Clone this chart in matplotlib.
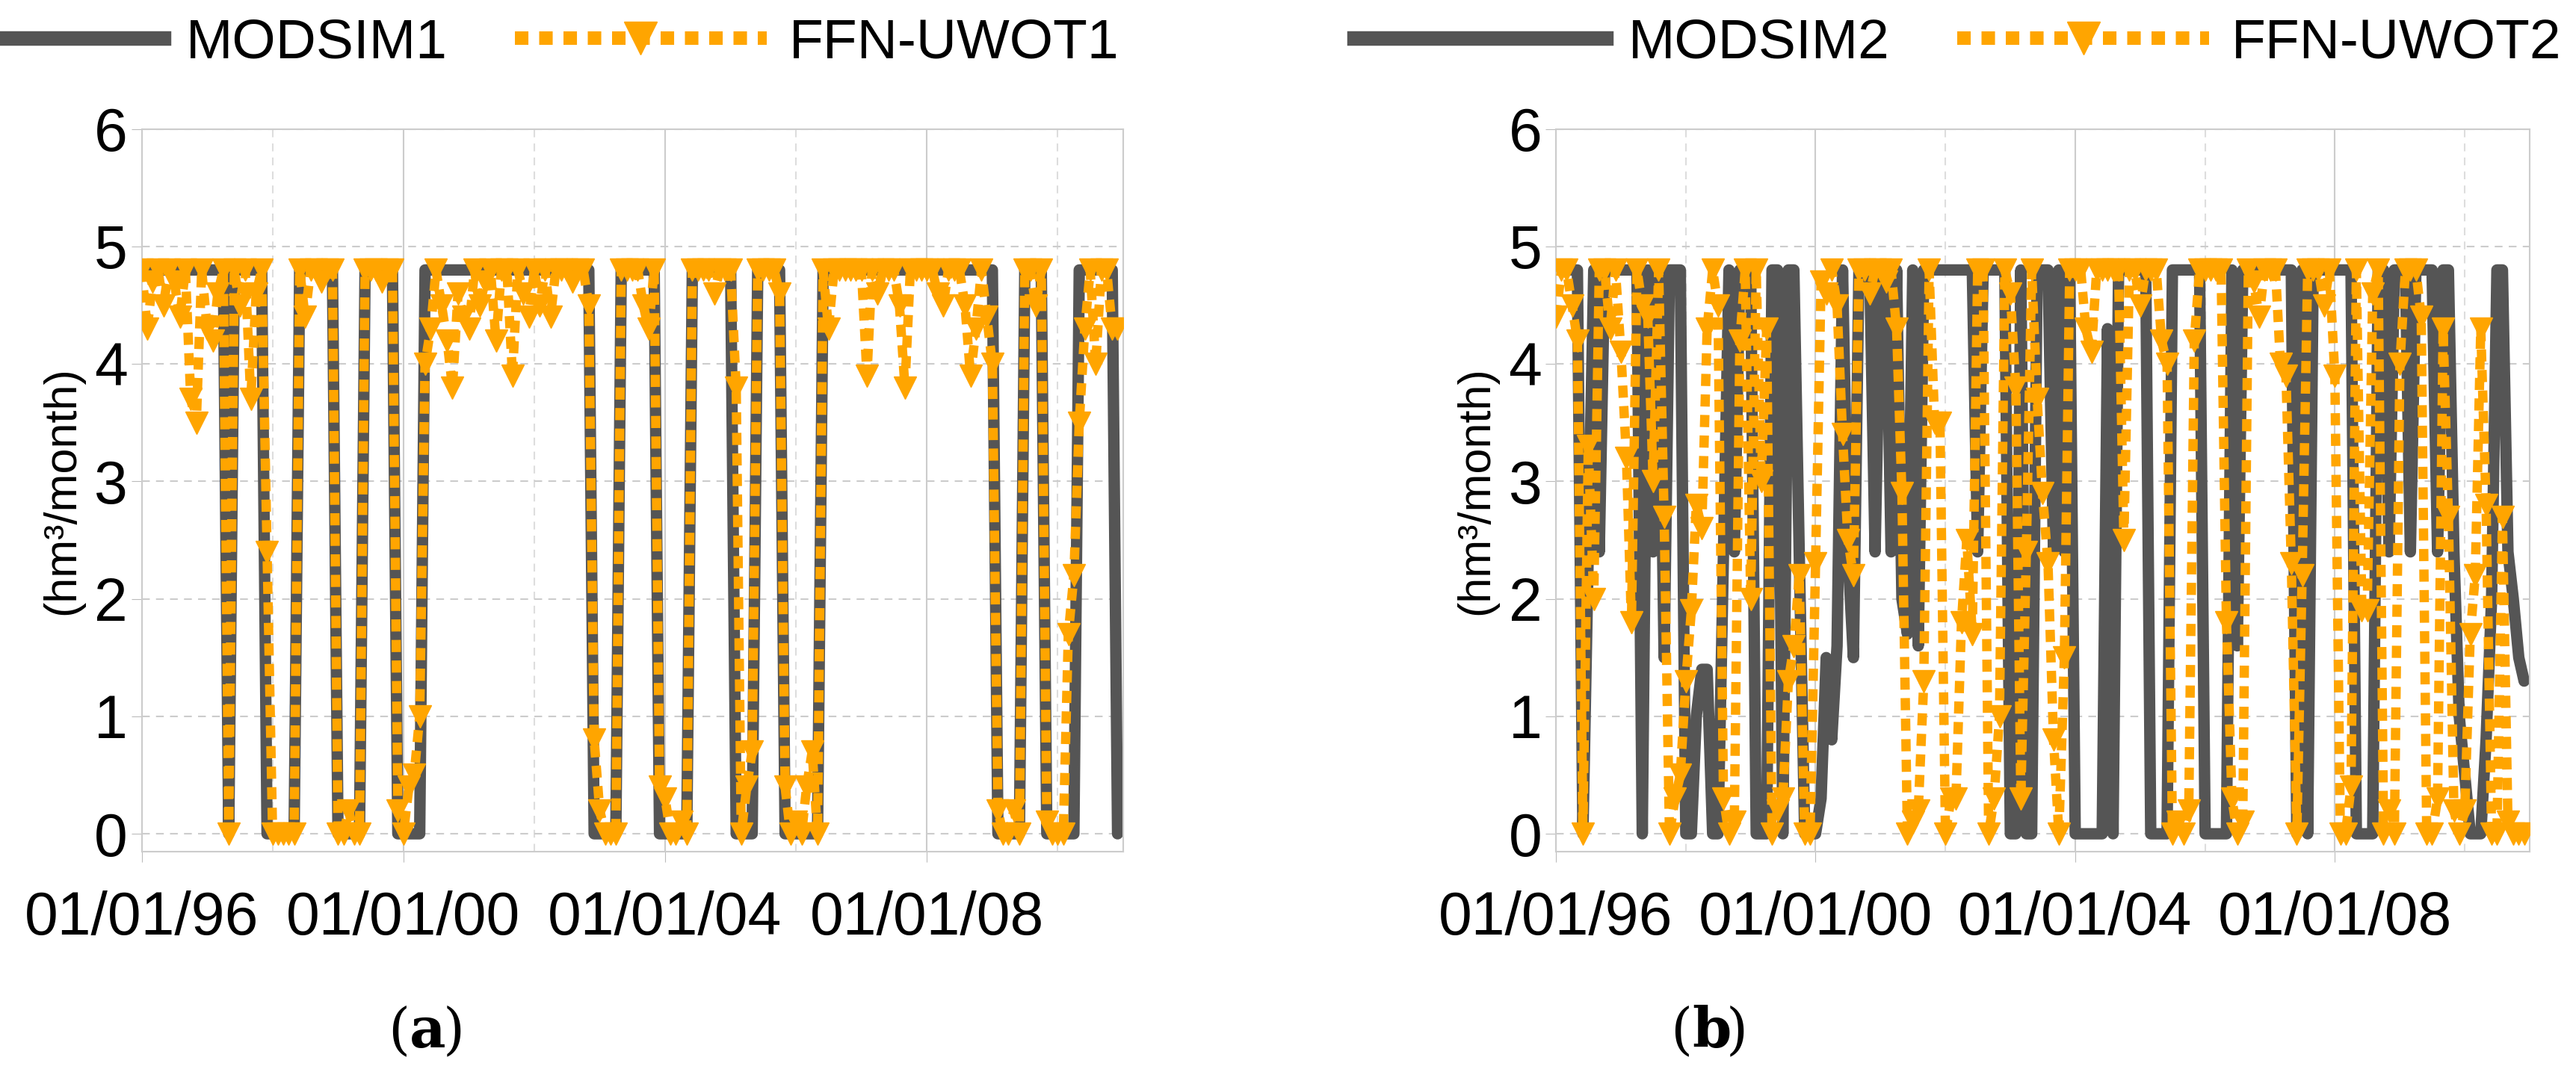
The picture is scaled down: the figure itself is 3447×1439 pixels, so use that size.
import matplotlib
matplotlib.use("Agg")
import matplotlib.pyplot as plt
import matplotlib.dates as mdates
from matplotlib.lines import Line2D
import pandas as pd

plt.rcParams['font.family'] = ['Liberation Sans', 'DejaVu Sans']

months = pd.date_range("1996-01-01", periods=180, freq="MS")

modsim1 = [
4.8,4.8,4.8,4.8,4.8,4.8,4.8,4.8,4.8,4.8,4.8,4.8,4.8,4.8,4.8,4.8,
0,
4.8,4.8,4.8,4.8,4.8,4.8,
0,0,0,0,0,0,
4.8,4.8,4.8,4.8,4.8,4.8,4.8,
0,0,0,0,0,
4.8,4.8,4.8,4.8,4.8,4.8,
0,0,0,0,0,
4.8,4.8,4.8,4.8,4.8,4.8,4.8,4.8,4.8,4.8,4.8,4.8,4.8,4.8,4.8,4.8,4.8,4.8,4.8,4.8,4.8,4.8,4.8,4.8,4.8,4.8,4.8,4.8,4.8,4.8,4.8,
0,0,0,0,0,
4.8,4.8,4.8,4.8,4.8,4.8,4.8,
0,0,0,0,0,0,
4.8,4.8,4.8,4.8,4.8,4.8,4.8,4.8,
0,0,0,0,
4.8,4.8,4.8,4.8,4.8,
0,0,0,0,0,0,0,
4.8,4.8,4.8,4.8,4.8,4.8,4.8,4.8,4.8,4.8,4.8,4.8,4.8,4.8,4.8,4.8,4.8,4.8,4.8,4.8,4.8,4.8,4.8,4.8,4.8,4.8,4.8,4.8,4.8,4.8,4.8,4.8,
0,0,0,0,0,
4.8,4.8,4.8,4.8,
0,0,0,0,0,0,
4.8,4.8,4.8,4.8,4.8,4.8,4.8,
0]

ffn1 = [
4.8,4.3,4.7,4.8,4.5,4.8,4.7,4.4,4.8,3.7,3.5,4.8,4.3,4.2,4.6,4.8,
0,
4.8,4.5,4.8,3.7,4.6,4.8,
2.4,0,0,0,0,0,
4.8,4.4,4.8,4.8,4.7,4.8,4.8,
0,0,0.2,0,0,
4.8,4.8,4.8,4.7,4.8,4.8,
0.2,0,0.4,0.5,1.0,
4.0,4.3,4.8,4.5,4.2,3.8,4.6,4.4,4.3,4.8,4.5,4.7,4.8,4.2,4.8,4.8,3.9,4.8,4.6,4.4,4.8,4.5,4.8,4.4,4.8,4.8,4.8,4.7,4.8,4.8,4.5,
0.8,0.2,0,0,0,
4.8,4.8,4.8,4.8,4.5,4.3,4.8,
0.4,0.3,0,0,0.1,0,
4.8,4.8,4.8,4.8,4.6,4.8,4.8,4.8,
3.8,0,0.4,0.7,
4.8,4.8,4.8,4.8,4.6,
0.4,0,0.1,0,0.4,0.7,0,
4.8,4.3,4.8,4.8,4.8,4.8,4.8,4.8,3.9,4.8,4.6,4.8,4.8,4.8,4.5,3.8,4.8,4.8,4.8,4.8,4.8,4.6,4.5,4.8,4.8,4.8,4.5,3.9,4.3,4.8,4.4,4.0,
0.2,0,0,0.2,0,
4.8,4.8,4.5,4.8,
0.1,0,0,0,1.7,2.2,
3.5,4.3,4.8,4.0,4.8,4.8,4.3,
4.3]

modsim2 = [
4.8,4.8,4.8,4.8,4.8,
0,2.4,4.8,2.4,
4.8,4.8,4.8,4.8,4.8,4.8,4.8,
0,
4.8,2.4,4.8,1.5,
4.8,4.8,4.8,
0,0,1.0,
1.4,1.4,0,
0,2.4,
4.8,2.4,4.8,4.8,4.8,
0,0,0,
4.8,4.8,0,4.8,4.8,2.4,
0,0,0,0.3,
1.5,0.8,1.6,
4.8,2.4,1.5,
4.8,4.8,
4.8,2.4,4.8,4.8,2.4,4.8,
2.0,1.7,4.8,1.6,4.8,
4.8,4.8,4.8,4.8,4.8,4.8,4.8,4.8,4.8,2.4,4.8,4.8,4.8,4.8,4.8,
0,0,4.8,0,0,
4.8,4.8,4.8,2.4,4.8,2.4,4.8,
0,0,0,0,0,0,
4.3,0,
4.8,4.8,4.8,4.8,4.8,4.8,
0,0,0,0,
4.8,4.8,4.8,4.8,4.8,4.8,
0,0,0,0,0,
4.8,1.6,4.8,4.8,4.8,4.8,4.8,4.8,4.8,4.8,4.8,4.8,
0,
4.8,0,4.8,4.8,
4.8,4.8,4.8,4.8,4.8,4.8,
0,0,0,0,
4.8,4.8,2.4,4.8,4.8,4.8,2.4,4.8,4.8,4.8,4.8,2.4,4.8,4.8,
2.4,1.0,0.5,
0,0,0,0.8,
2.0,4.8,4.8,2.4,2.0,1.5,1.3]

ffn2 = [
4.4,4.8,4.8,4.5,4.2,0,3.3,2.0,4.8,4.8,4.3,4.8,4.1,3.2,1.8,4.8,
4.5,4.4,3.0,4.8,2.7,0,0.3,0.5,1.3,1.9,2.8,2.6,4.3,4.8,4.5,0.3,
0,0.1,4.2,4.8,2.0,4.8,3.0,4.3,0,0.2,0.3,1.3,1.6,2.2,0,0,
2.3,4.7,4.6,4.8,4.5,3.4,2.5,2.2,4.8,4.8,4.6,4.8,4.8,4.7,4.8,4.3,
2.9,0,0.1,0.2,1.3,4.8,3.5,3.5,0,0.3,0.3,1.8,2.5,1.7,4.8,4.8,
0,0.3,1.0,4.8,4.6,3.8,0.3,2.4,4.8,3.7,2.9,2.3,0.8,0,1.5,4.8,
4.8,4.8,4.3,4.1,4.8,4.8,4.8,4.8,4.8,2.5,4.8,4.8,4.5,4.8,4.8,4.8,
4.2,4.0,0,0.1,0,0.2,4.2,4.8,4.8,4.8,4.8,4.8,1.8,0.3,0,0.1,
4.8,4.7,4.4,4.8,4.8,4.8,4.0,3.9,2.3,0,2.2,4.8,4.8,4.8,4.5,4.8,
3.9,0,0,0.4,4.8,1.9,1.9,4.6,4.8,0,0.2,0,4.0,4.8,4.8,4.8,
4.4,0,0,0.3,4.3,2.7,0.2,0,0.2,1.7,2.2,4.3,2.8,0,0,2.7,
0.1,0,0,0]

names = [("MODSIM1", "FFN-UWOT1"), ("MODSIM2", "FFN-UWOT2")]
sublabels = ["a", "b"]

DARK = "#555555"
ORANGE = "#FFA500"

fig = plt.figure(figsize=(34.47, 14.39), dpi=100)
axes_pos = [[0.055, 0.208, 0.381, 0.672], [0.604, 0.208, 0.378, 0.672]]
series = [(modsim1, ffn1), (modsim2, ffn2)]
leg_x = [0.2, 0.76]
sub_x = [0.159, 0.657]

for i, ax_rect in enumerate(axes_pos):
    ax = fig.add_axes(ax_rect)
    m, f = series[i]
    ax.plot(months, m, color=DARK, lw=11, solid_capstyle='round',
            solid_joinstyle='round', zorder=2)
    ax.plot(months, f, color=ORANGE, lw=9, linestyle=(0, (1.3, 0.9)),
            marker='v', markersize=22, zorder=3)
    ax.set_ylim(-0.15, 6)
    ax.set_xlim(pd.Timestamp("1996-01-01"), pd.Timestamp("2011-01-01"))
    ax.set_yticks([0, 1, 2, 3, 4, 5, 6])
    ax.xaxis.set_major_locator(mdates.YearLocator(4))
    ax.xaxis.set_minor_locator(mdates.YearLocator(2))
    ax.xaxis.set_major_formatter(mdates.DateFormatter("%d/%m/%y"))
    ax.tick_params(axis='both', labelsize=58, length=10, color="#bbbbbb")
    ax.tick_params(axis='x', which='minor', length=0)
    ax.tick_params(axis='x', pad=28)
    ax.grid(axis='y', color="#cccccc", linestyle=(0, (5, 4)), lw=1.5)
    ax.grid(axis='x', which='major', color="#cccccc", lw=1.5)
    ax.grid(axis='x', which='minor', color="#dddddd", linestyle=(0, (5, 4)), lw=1.5)
    ax.set_axisbelow(True)
    for s in ax.spines.values():
        s.set_color("#cccccc")
        s.set_linewidth(1.5)
    ax.set_ylabel("(hm³/month)", fontsize=44, labelpad=10)
    handles = [Line2D([], [], color=DARK, lw=14),
               Line2D([], [], color=ORANGE, lw=13, linestyle=(0, (1.0, 0.8)),
                      marker='v', markersize=32, markevery=[1])]
    fig.legend(handles, names[i], loc='center', bbox_to_anchor=(leg_x[i], 0.96),
               ncol=2, frameon=False, fontsize=54, handlelength=4.5,
               columnspacing=1.2, handletextpad=0.4)
    fig.text(sub_x[i], 0.04, "(", fontsize=54, family='DejaVu Serif', ha='right', va='center')
    fig.text(sub_x[i], 0.04, sublabels[i], fontsize=54, family='DejaVu Serif',
             fontweight='bold', ha='left', va='center')
    fig.text(sub_x[i] + 0.013, 0.04, ")", fontsize=54, family='DejaVu Serif', ha='left', va='center')

fig.savefig("out.png", dpi=100)
